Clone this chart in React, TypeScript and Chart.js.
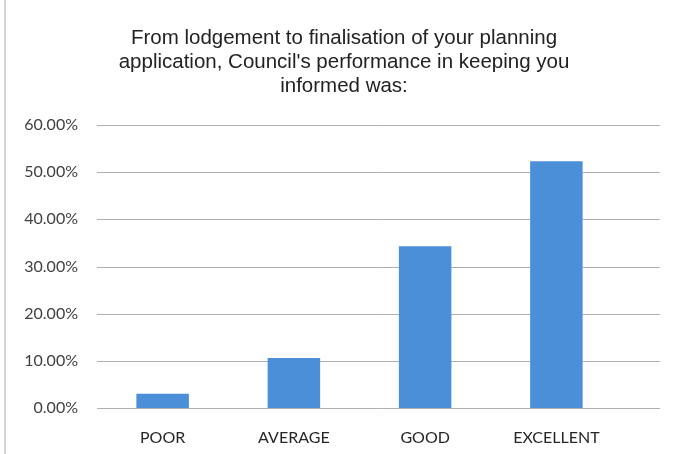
import React, { useEffect, useRef } from "react";
import { Chart, registerables } from "chart.js";

Chart.register(...registerables);

const categories: string[] = ["POOR", "AVERAGE", "GOOD", "EXCELLENT"];
const values: number[] = [3.0, 10.6, 34.3, 52.3];
const titleLines: string[] = [
  "From lodgement to finalisation of your planning",
  "application, Council's performance in keeping you",
  "informed was:",
];
const yMin = 0;
const yMax = 60;
const yStep = 10;

const W = 674;
const H = 454;

const gridPlugin = {
  id: "extendedGrid",
  beforeDraw(chart: any) {
    const ctx = chart.ctx;
    ctx.save();
    ctx.fillStyle = "#ffffff";
    ctx.fillRect(0, 0, chart.width, chart.height);
    ctx.strokeStyle = "#d4d4d4";
    ctx.lineWidth = 2;
    ctx.beginPath();
    ctx.moveTo(5, 0);
    ctx.lineTo(5, chart.height);
    ctx.stroke();
    ctx.restore();
  },
  beforeDatasetsDraw(chart: any) {
    const ctx = chart.ctx;
    const y = chart.scales.y;
    const left = chart.chartArea.left;
    const right = chart.width - 14;
    ctx.save();
    ctx.strokeStyle = "#b0b0b0";
    ctx.lineWidth = 1;
    y.ticks.forEach((t: any) => {
      const py = Math.round(y.getPixelForValue(t.value)) + 0.5;
      ctx.beginPath();
      ctx.moveTo(left, py);
      ctx.lineTo(right, py);
      ctx.stroke();
    });
    ctx.restore();
  },
};

export default function App() {
  const ref = useRef<HTMLCanvasElement | null>(null);
  useEffect(() => {
    document.body.style.margin = "0";
    const canvas = ref.current!;
    const chart = new Chart(canvas, {
      type: "bar",
      data: {
        labels: categories,
        datasets: [
          {
            data: values,
            backgroundColor: "#4a8fd8",
            borderWidth: 0,
            categoryPercentage: 1,
            barPercentage: 0.4,
            yAxisID: "y",
          },
        ],
      },
      options: {
        animation: false,
        responsive: false,
        maintainAspectRatio: false,
        devicePixelRatio: 1,
        layout: { padding: { left: 14, right: 0, top: 0, bottom: 0 } },
        plugins: {
          legend: { display: false },
          tooltip: { enabled: false },
          title: {
            display: true,
            text: titleLines,
            color: "#222222",
            font: { family: "'Liberation Sans', Arial, sans-serif", size: 20.5, weight: "normal", lineHeight: "24px" },
            padding: { top: 26, bottom: 27 },
          },
        },
        scales: {
          x: {
            grid: { display: false, drawTicks: false },
            border: { display: false },
            ticks: {
              color: "#262626",
              font: { family: "Lato, 'Open Sans', sans-serif", size: 16 },
              padding: 20,
            },
            afterFit(scale: any) {
              scale.height = 46;
            },
          },
          y: {
            min: yMin,
            max: yMax,
            grid: { display: false, drawTicks: false },
            border: { display: false },
            ticks: {
              stepSize: yStep,
              color: "#404040",
              font: { family: "Lato, 'Open Sans', sans-serif", size: 16 },
              padding: 19,
              callback: (v: any) => Number(v).toFixed(2) + "%",
            },
            afterFit(scale: any) {
              scale.width = 83;
            },
          },
          yRight: {
            position: "right",
            min: yMin,
            max: yMax,
            grid: { display: false, drawTicks: false },
            border: { display: false },
            ticks: { display: false },
            afterFit(scale: any) {
              scale.width = 52;
            },
          },
        },
      },
      plugins: [gridPlugin],
    });
    return () => chart.destroy();
  }, []);
  return (
    <div style={{ width: W, height: H }}>
      <canvas ref={ref} width={W} height={H} style={{ display: "block", width: W, height: H }} />
    </div>
  );
}
